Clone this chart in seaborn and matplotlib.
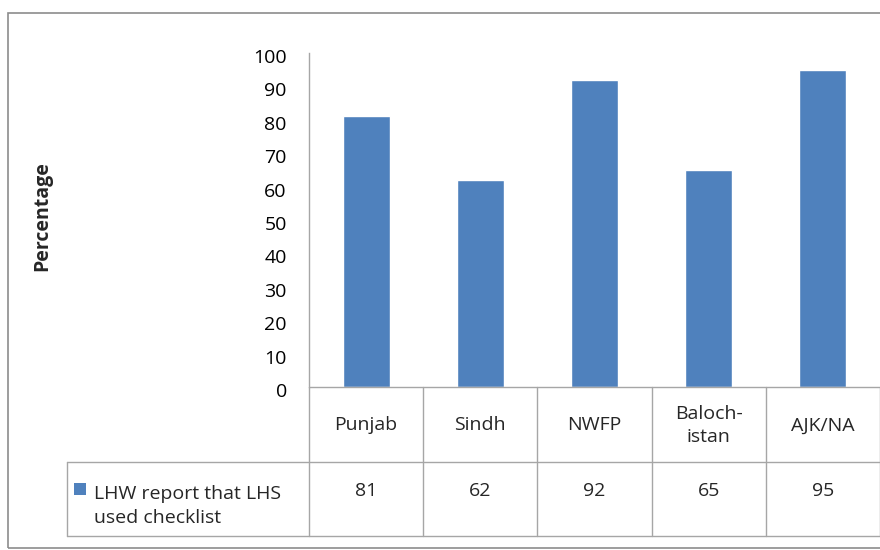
import matplotlib
matplotlib.use("Agg")
import matplotlib.pyplot as plt
import matplotlib.transforms as mtransforms
from matplotlib.lines import Line2D
from matplotlib.patches import Rectangle
import seaborn as sns
import pandas as pd

categories = ["Punjab", "Sindh", "NWFP", "Baloch-\nistan", "AJK/NA"]
values = [81, 62, 92, 65, 95]
series_name = "LHW report that LHS\nused checklist"
y_label = "Percentage"
y_ticks = [0, 10, 20, 30, 40, 50, 60, 70, 80, 90, 100]

sns.set_theme(style="white")
plt.rcParams['font.family'] = ['Open Sans', 'DejaVu Sans']

FS = 14

W, H = 880, 550
fig = plt.figure(figsize=(W / 100, H / 100), dpi=100)

def fx(x):
    return x / W

def fy(y):
    return 1 - y / H

ax_l, ax_r, ax_t, ax_b = 309, 880, 53, 387
ax = fig.add_axes([fx(ax_l), fy(ax_b), fx(ax_r - ax_l), fy(ax_t) - fy(ax_b)])

df = pd.DataFrame({"cat": categories, "val": values})
sns.barplot(data=df, x="cat", y="val", color="#4F81BD", saturation=1,
            width=0.41, ax=ax)
ax.set_ylim(0, 100)
ax.set_xlim(-0.5, len(categories) - 0.5)
ax.set_yticks(y_ticks)
ax.set_yticklabels([str(t) for t in y_ticks], fontsize=FS, color="#000000")
ax.tick_params(axis="y", length=0, pad=16)
offset = mtransforms.ScaledTranslation(0, -3 / 100, fig.dpi_scale_trans)
for lab in ax.get_yticklabels():
    lab.set_transform(lab.get_transform() + offset)
ax.set_xticks([])
ax.set_xlabel("")
ax.set_ylabel("")
for s in ["top", "right", "bottom"]:
    ax.spines[s].set_visible(False)
ax.spines["left"].set_color("#A6A6A6")
ax.spines["left"].set_linewidth(1)

fig.text(fx(42), fy(216), y_label, rotation=90, fontsize=FS, fontweight="bold",
         ha="center", va="center")

line_c = "#A6A6A6"

def hline(x0, x1, y):
    fig.add_artist(Line2D([fx(x0), fx(x1)], [fy(y), fy(y)], color=line_c, lw=1))

def vline(x, y0, y1):
    fig.add_artist(Line2D([fx(x), fx(x)], [fy(y0), fy(y1)], color=line_c, lw=1))

# outer chart border
fig.add_artist(Rectangle((fx(8), fy(548)), fx(880), fy(13) - fy(548),
                         fill=False, edgecolor="#8C8C8C", lw=1.2,
                         transform=fig.transFigure))

# data table
col_w = (ax_r - ax_l) / len(categories)
row1_top, row1_bot, row2_bot = ax_b, 462, 536
table_left = 67
hline(ax_l, ax_r, row1_top)
hline(table_left, ax_r, row1_bot)
hline(table_left, ax_r, row2_bot)
vline(table_left, row1_bot, row2_bot)
for i in range(len(categories) + 1):
    vline(ax_l + i * col_w, row1_top, row2_bot)

for i, (c, v) in enumerate(zip(categories, values)):
    cx = ax_l + (i + 0.5) * col_w
    fig.text(fx(cx), fy((row1_top + row1_bot) / 2 + 1), c, ha="center", va="center",
             fontsize=FS, linespacing=1.4)
    fig.text(fx(cx), fy(491), str(v), ha="center", va="center", fontsize=FS)

fig.add_artist(Rectangle((fx(74), fy(495)), fx(12), fy(483) - fy(495),
                         facecolor="#4F81BD", edgecolor="none",
                         transform=fig.transFigure))
fig.text(fx(94), fy(506), series_name, ha="left", va="center", fontsize=FS,
         linespacing=1.4)

fig.savefig("out.png", dpi=100)
